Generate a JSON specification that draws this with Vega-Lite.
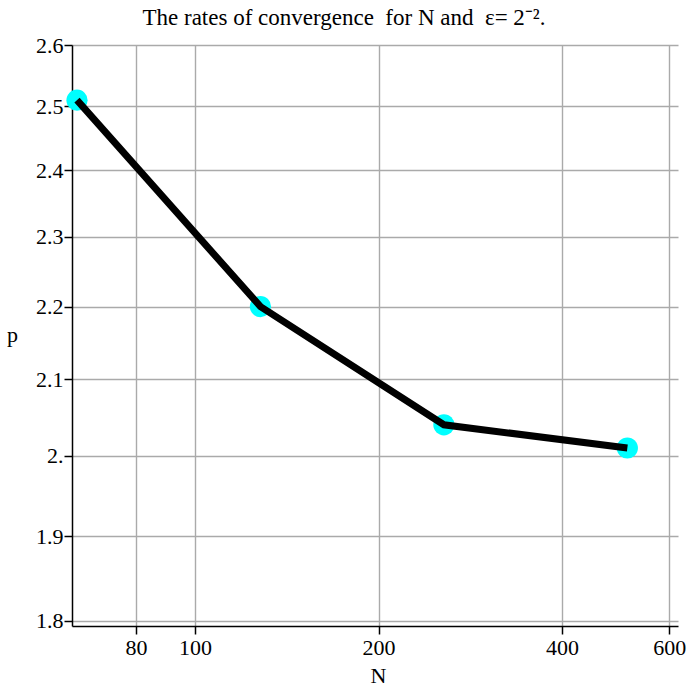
{
  "$schema": "https://vega.github.io/schema/vega-lite/v6.json",
  "autosize": "none",
  "width": 606,
  "height": 581,
  "padding": {"left": 72, "top": 45, "right": 11, "bottom": 61},
  "title": {
    "text": "The rates of convergence \u00a0for N and \u00a0ε= 2⁻².",
    "font": "Liberation Serif",
    "fontSize": 23,
    "fontWeight": "normal",
    "color": "black",
    "anchor": "middle",
    "frame": "group",
    "dx": -31,
    "offset": 4
  },
  "config": {
    "view": {"stroke": null},
    "axis": {
      "labelFont": "Liberation Serif",
      "labelFontSize": 22,
      "labelColor": "black",
      "titleFont": "Liberation Serif",
      "titleFontSize": 22,
      "titleFontWeight": "normal",
      "titleColor": "black",
      "domainColor": "black",
      "domainWidth": 1.5,
      "tickColor": "black",
      "tickWidth": 1.5,
      "tickSize": 8,
      "gridColor": "#aaaaaa",
      "gridWidth": 1.4,
      "gridOpacity": 1
    }
  },
  "data": {
    "values": [
      {"N": 64, "p": 2.51},
      {"N": 128, "p": 2.2},
      {"N": 256, "p": 2.04},
      {"N": 512, "p": 2.01}
    ]
  },
  "encoding": {
    "x": {
      "field": "N",
      "type": "quantitative",
      "scale": {"type": "log", "domain": [62.8, 620], "nice": false},
      "axis": {
        "values": [80, 100, 200, 400, 600],
        "format": "d",
        "title": "N",
        "grid": true,
        "labelPadding": 3,
        "labelFlush": false,
        "titleX": 306,
        "titleY": 49,
        "titleAlign": "center",
        "titleBaseline": "middle"
      }
    },
    "y": {
      "field": "p",
      "type": "quantitative",
      "scale": {"type": "log", "domain": [1.794, 2.6], "nice": false, "zero": false},
      "axis": {
        "values": [1.8, 1.9, 2.0, 2.1, 2.2, 2.3, 2.4, 2.5, 2.6],
        "labelExpr": "datum.value == 2 ? '2.' : format(datum.value, '.1f')",
        "title": "p",
        "grid": true,
        "labelPadding": 1,
        "labelFlush": false,
        "titleAngle": 0,
        "titleX": -60,
        "titleY": 289,
        "titleAlign": "center",
        "titleBaseline": "middle"
      }
    }
  },
  "layer": [
    {
      "mark": {"type": "point", "filled": true, "size": 450, "color": "#00ffff", "opacity": 1}
    },
    {
      "mark": {"type": "line", "color": "black", "strokeWidth": 7, "strokeCap": "butt"}
    }
  ]
}
